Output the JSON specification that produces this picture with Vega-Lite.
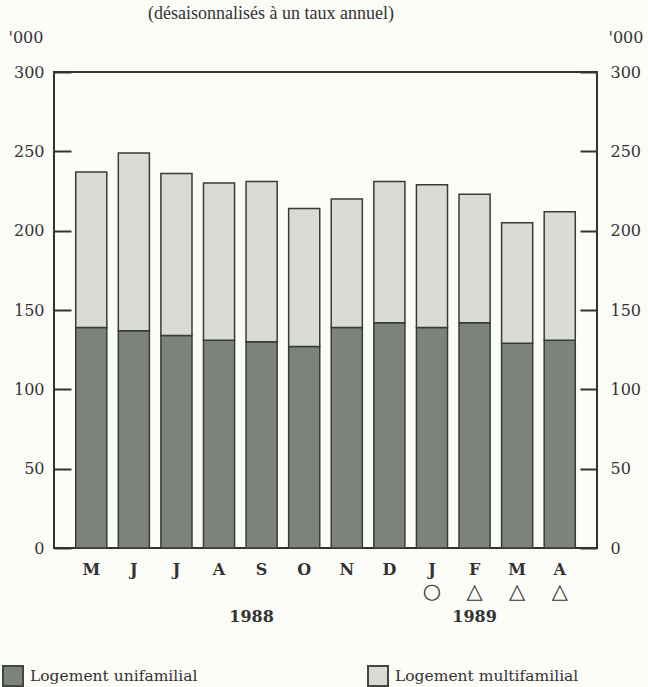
{
  "$schema": "https://vega.github.io/schema/vega-lite/v6.json",
  "width": 543,
  "height": 476,
  "autosize": {"type": "none"},
  "padding": {"left": 54, "top": 72, "right": 51, "bottom": 139},
  "background": "#fbfbf8",
  "title": {
    "text": "(désaisonnalisés à un taux annuel)",
    "anchor": "start",
    "frame": "group",
    "dx": 94,
    "offset": 6,
    "font": "Liberation Serif",
    "fontSize": 18,
    "fontWeight": "normal",
    "color": "#333333"
  },
  "config": {
    "view": {"stroke": "#333333", "strokeWidth": 2},
    "font": "DejaVu Serif",
    "axis": {"titleFont": "DejaVu Serif", "labelFont": "DejaVu Serif"},
    "legend": {"labelFont": "DejaVu Serif"}
  },
  "data": {
    "values": [
      {"mois": "1988-05", "type": "Logement unifamilial", "valeur": 139},
      {"mois": "1988-05", "type": "Logement multifamilial", "valeur": 98},
      {"mois": "1988-06", "type": "Logement unifamilial", "valeur": 137},
      {"mois": "1988-06", "type": "Logement multifamilial", "valeur": 112},
      {"mois": "1988-07", "type": "Logement unifamilial", "valeur": 134},
      {"mois": "1988-07", "type": "Logement multifamilial", "valeur": 102},
      {"mois": "1988-08", "type": "Logement unifamilial", "valeur": 131},
      {"mois": "1988-08", "type": "Logement multifamilial", "valeur": 99},
      {"mois": "1988-09", "type": "Logement unifamilial", "valeur": 130},
      {"mois": "1988-09", "type": "Logement multifamilial", "valeur": 101},
      {"mois": "1988-10", "type": "Logement unifamilial", "valeur": 127},
      {"mois": "1988-10", "type": "Logement multifamilial", "valeur": 87},
      {"mois": "1988-11", "type": "Logement unifamilial", "valeur": 139},
      {"mois": "1988-11", "type": "Logement multifamilial", "valeur": 81},
      {"mois": "1988-12", "type": "Logement unifamilial", "valeur": 142},
      {"mois": "1988-12", "type": "Logement multifamilial", "valeur": 89},
      {"mois": "1989-01", "type": "Logement unifamilial", "valeur": 139},
      {"mois": "1989-01", "type": "Logement multifamilial", "valeur": 90},
      {"mois": "1989-02", "type": "Logement unifamilial", "valeur": 142},
      {"mois": "1989-02", "type": "Logement multifamilial", "valeur": 81},
      {"mois": "1989-03", "type": "Logement unifamilial", "valeur": 129},
      {"mois": "1989-03", "type": "Logement multifamilial", "valeur": 76},
      {"mois": "1989-04", "type": "Logement unifamilial", "valeur": 131},
      {"mois": "1989-04", "type": "Logement multifamilial", "valeur": 81}
    ]
  },
  "layer": [
    {
      "mark": {"type": "bar", "stroke": "#3a3a3a", "strokeWidth": 1.5},
      "encoding": {
        "x": {
          "field": "mois",
          "type": "ordinal",
          "scale": {"paddingInner": 0.27, "paddingOuter": 0.51},
          "axis": {
            "orient": "bottom",
            "title": null,
            "domain": false,
            "ticks": false,
            "labelAngle": 0,
            "labelExpr": "substring('JFMAMJJASOND', toNumber(substring(datum.value, 5, 7)) - 1, toNumber(substring(datum.value, 5, 7)))",
            "labelFont": "DejaVu Serif",
            "labelFontSize": 16,
            "labelFontWeight": "bold",
            "labelColor": "#333333",
            "labelBaseline": "top",
            "labelPadding": 13
          }
        },
        "y": {
          "field": "valeur",
          "type": "quantitative",
          "stack": "zero",
          "scale": {"domain": [0, 300], "nice": false},
          "axis": {
            "title": "'000",
            "titleAngle": 0,
            "titleAlign": "left",
            "titleBaseline": "middle",
            "titleX": -46,
            "titleY": -35,
            "titleFont": "DejaVu Serif",
            "titleFontSize": 16,
            "titleFontWeight": "normal",
            "titleColor": "#333333",
            "values": [0, 50, 100, 150, 200, 250, 300],
            "grid": false,
            "domain": false,
            "tickSize": -17,
            "tickWidth": 2,
            "tickColor": "#333333",
            "labelPadding": 27,
            "labelFont": "DejaVu Serif",
            "labelFontSize": 16,
            "labelColor": "#333333"
          }
        },
        "color": {
          "field": "type",
          "type": "nominal",
          "scale": {
            "domain": ["Logement unifamilial", "Logement multifamilial"],
            "range": ["#7b837a", "#d8dcd5"]
          },
          "legend": {
            "orient": "none",
            "legendX": -52,
            "legendY": 593,
            "direction": "horizontal",
            "title": null,
            "symbolType": "square",
            "symbolSize": 400,
            "symbolStrokeColor": "#444444",
            "symbolStrokeWidth": 2,
            "labelFont": "DejaVu Serif",
            "labelFontSize": 15.5,
            "labelColor": "#333333",
            "labelLimit": 300,
            "labelOffset": 6,
            "columnPadding": 166
          }
        },
        "order": {"field": "type", "sort": "descending"}
      }
    },
    {
      "mark": {"type": "bar", "opacity": 0},
      "encoding": {
        "x": {
          "field": "mois",
          "type": "ordinal",
          "axis": {
            "orient": "bottom",
            "title": null,
            "domain": false,
            "ticks": false,
            "labelAngle": 0,
            "labelExpr": "datum.value == '1988-09' ? '1988' : (datum.value == '1989-02' ? '1989' : '')",
            "labelOffset": {"condition": {"test": "datum.value == '1988-09'", "value": -10}, "value": 0},
            "labelFont": "DejaVu Serif",
            "labelFontSize": 16,
            "labelFontWeight": "bold",
            "labelColor": "#333333",
            "labelBaseline": "top",
            "labelPadding": 60
          }
        },
        "y": {
          "field": "valeur",
          "type": "quantitative",
          "stack": "zero",
          "axis": {
            "orient": "right",
            "title": "'000",
            "titleAngle": 0,
            "titleAlign": "left",
            "titleBaseline": "middle",
            "titleX": 11,
            "titleY": -35,
            "titleFont": "DejaVu Serif",
            "titleFontSize": 16,
            "titleFontWeight": "normal",
            "titleColor": "#333333",
            "values": [0, 50, 100, 150, 200, 250, 300],
            "grid": false,
            "domain": false,
            "tickSize": -17,
            "tickWidth": 2,
            "tickColor": "#333333",
            "labelPadding": 30,
            "labelFont": "DejaVu Serif",
            "labelFontSize": 16,
            "labelColor": "#333333"
          }
        }
      }
    },
    {
      "mark": {"type": "bar", "opacity": 0},
      "encoding": {
        "x": {
          "field": "mois",
          "type": "ordinal",
          "axis": {
            "orient": "bottom",
            "title": null,
            "domain": false,
            "ticks": false,
            "labelAngle": 0,
            "labelExpr": "datum.value == '1989-01' ? '○' : (datum.value > '1989-01' ? '△' : '')",
            "labelFontSize": 21,
            "labelFontWeight": "bold",
            "labelColor": "#333333",
            "labelBaseline": "middle",
            "labelPadding": 43
          }
        },
        "y": {
          "field": "valeur",
          "type": "quantitative",
          "stack": "zero",
          "axis": null
        }
      }
    }
  ],
  "resolve": {"axis": {"x": "independent", "y": "independent"}}
}
